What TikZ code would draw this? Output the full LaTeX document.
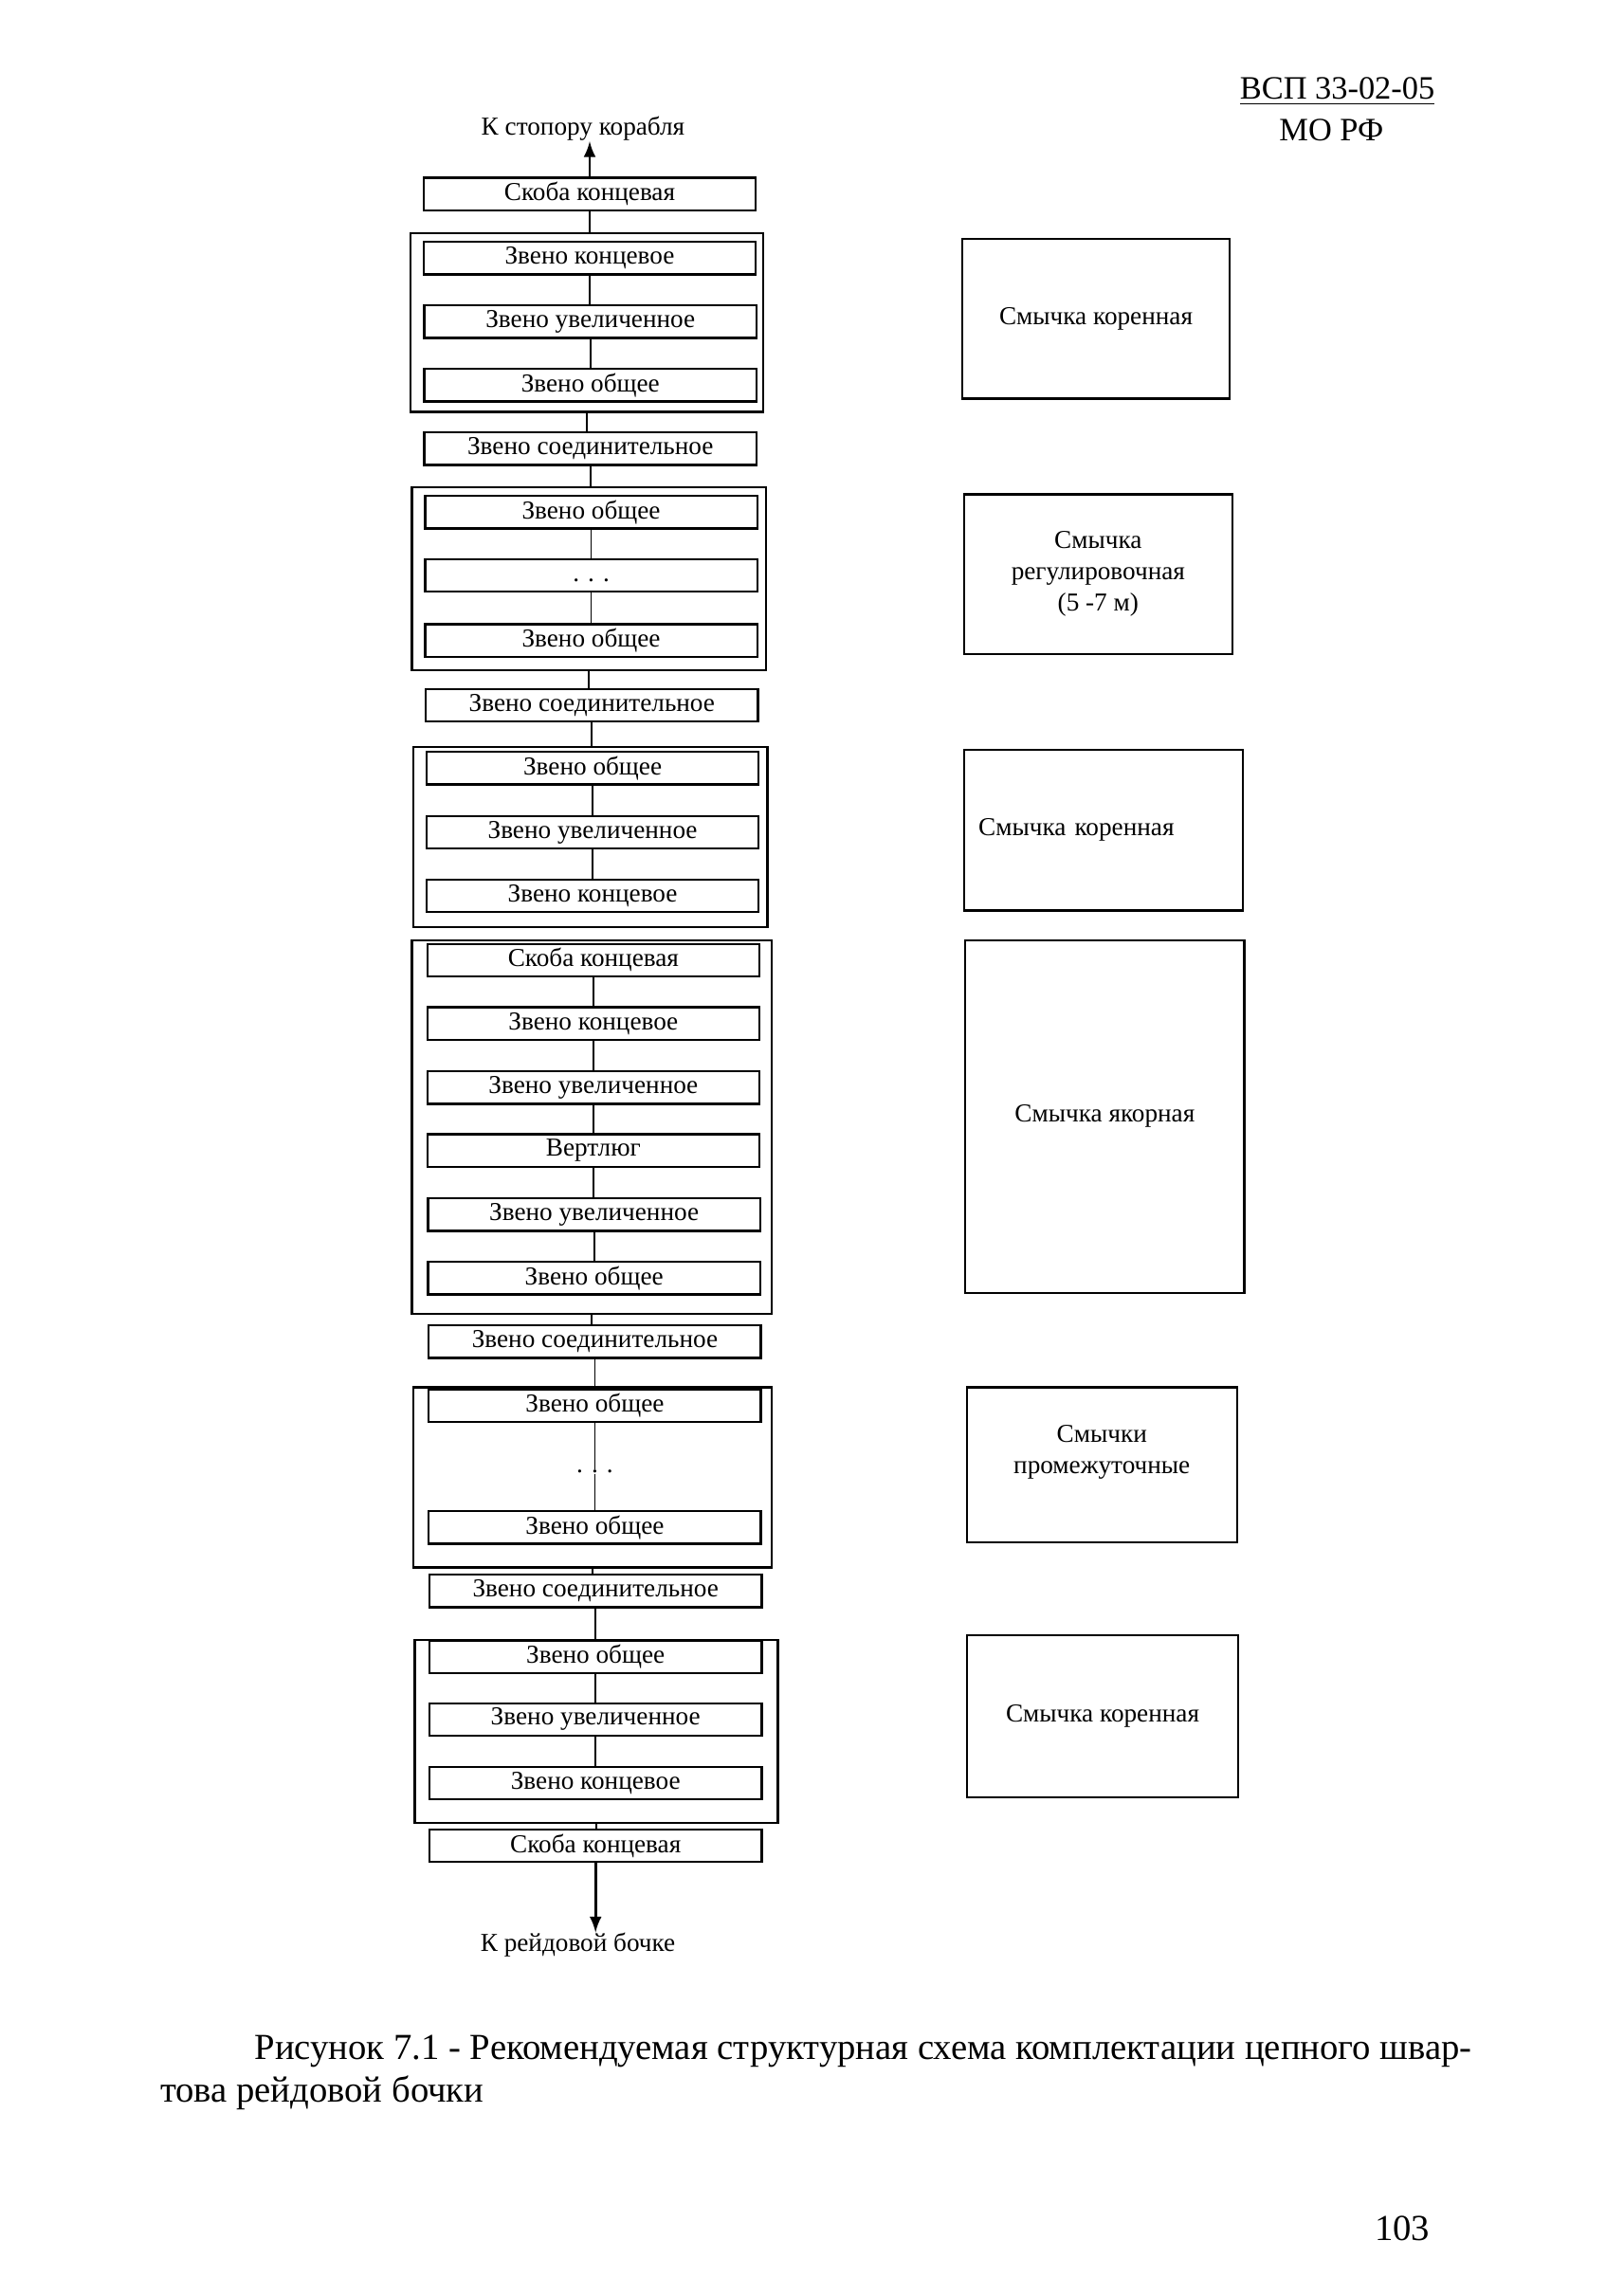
\documentclass[tikz,border=0pt]{standalone}
\usepackage{fontspec}
\setmainfont{Liberation Serif}
\usetikzlibrary{positioning}
\newcommand{\pxu}{0.1909mm}
\newcommand{\boxfont}{\fontsize{9.5}{11.5}\selectfont}
\tikzset{
    zveno/.style={draw,line width=0.8pt,minimum width=225*\pxu,minimum height=22*\pxu,inner sep=0pt,font=\boxfont},
    gruppa/.style={draw,line width=0.8pt,inner sep=0pt},
    smychka/.style={draw,line width=0.8pt,inner sep=0pt,align=center,font=\boxfont},
    podpis/.style={inner sep=0pt,font=\boxfont},
}
\begin{document}
\begin{tikzpicture}[x=\pxu,y=-\pxu,line width=0.6pt]
        \useasboundingbox (0,0) rectangle (1100,1555);
        % header
        \node[inner sep=0pt,font=\fontsize{12}{14}\selectfont] (hdr1) at (906,62) {\underline{ВСП 33-02-05}};
        \node[inner sep=0pt,font=\fontsize{12}{14}\selectfont] (hdr2) at (902,88) {МО РФ};
        \node[podpis] (top) at (395,87) {К стопору корабля};
        % groups
        \node[gruppa,minimum width=239*\pxu,minimum height=121*\pxu] (g1) at (397.5,218.5) {};
        \node[gruppa,minimum width=240*\pxu,minimum height=124*\pxu] (g2) at (399,392) {};
        \node[gruppa,minimum width=240*\pxu,minimum height=122*\pxu] (g3) at (400,567) {};
        \node[gruppa,minimum width=244*\pxu,minimum height=253*\pxu] (g4) at (401,763.5) {};
        \node[gruppa,minimum width=243*\pxu,minimum height=122*\pxu] (g5) at (401.5,1001) {};
        \node[gruppa,minimum width=246*\pxu,minimum height=124*\pxu] (g6) at (404,1173) {};
        % links
        \node[zveno] (s1) at (399.5,131.5) {Скоба концевая};
        \node[zveno] (z11) at (399.5,175) {Звено концевое};
        \node[zveno] (z12) at (400,218) {Звено увеличенное};
        \node[zveno] (z13) at (400,261) {Звено общее};
        \node[zveno] (c1) at (400,304) {Звено соединительное};
        \node[zveno] (z21) at (400.5,347) {Звено общее};
        \node[zveno] (z22) at (400.5,390) {\strut. . .};
        \node[zveno] (z23) at (400.5,434) {Звено общее};
        \node[zveno] (c2) at (401,478) {Звено соединительное};
        \node[zveno] (z31) at (401.5,520.5) {Звено общее};
        \node[zveno] (z32) at (401.5,564) {Звено увеличенное};
        \node[zveno] (z33) at (401.5,607) {Звено концевое};
        \node[zveno] (z41) at (402,650.5) {Скоба концевая};
        \node[zveno] (z42) at (402,693.5) {Звено концевое};
        \node[zveno] (z43) at (402,737) {Звено увеличенное};
        \node[zveno] (z44) at (402,779.5) {Вертлюг};
        \node[zveno] (z45) at (402.5,823) {Звено увеличенное};
        \node[zveno] (z46) at (402.5,866) {Звено общее};
        \node[zveno] (c3) at (403,909) {Звено соединительное};
        \node[zveno] (z51) at (403,952.5) {Звено общее};
        \node[podpis] (dots5) at (403,997) {. . .};
        \node[zveno] (z52) at (403,1035) {Звено общее};
        \node[zveno] (c4) at (403.5,1078) {Звено соединительное};
        \node[zveno] (z61) at (403.5,1122.5) {Звено общее};
        \node[zveno] (z62) at (403.5,1165) {Звено увеличенное};
        \node[zveno] (z63) at (403.5,1208) {Звено концевое};
        \node[zveno] (s2) at (403.5,1250.5) {Скоба концевая};
        \node[podpis] (bot) at (391.5,1318) {К рейдовой бочке};
        % chain
        \foreach \a/\b in {s1/g1,z11/z12,z12/z13,g1/c1,c1/g2,z21/z22,z22/z23,g2/c2,c2/g3,
            z31/z32,z32/z33,z41/z42,z42/z43,z43/z44,z44/z45,z45/z46,g4/c3,c3/g5,
            z51/dots5,dots5/z52,g5/c4,c4/g6,z61/z62,z62/z63,g6/s2}
        {
            \draw (\a.south) -- (\a.south |- \b.north);
        }
        \draw[-latex,line width=1pt] (s1.north) -- (s1.north |- top.south);
        \draw[-latex,line width=1pt] (s2.south) -- (s2.south |- bot.north);
        % shackles
        \node[smychka,minimum width=181*\pxu,minimum height=108*\pxu] (r1) at (742.5,216) {Смычка коренная};
        \node[smychka,minimum width=182*\pxu,minimum height=108*\pxu] (r2) at (744,389) {Смычка\\регулировочная\\(5 -7 м)};
        \node[smychka,minimum width=189*\pxu,minimum height=109*\pxu,text width=169*\pxu,inner xsep=10*\pxu,align=left] (r3) at (747.5,562.5) {Смычка коренная};
        \node[smychka,minimum width=189*\pxu,minimum height=239*\pxu] (r4) at (748.5,756.5) {Смычка якорная};
        \node[smychka,minimum width=183*\pxu,minimum height=105*\pxu] (r5) at (746.5,992.5) {Смычки\\промежуточные\\\mbox{}};
        \node[smychka,minimum width=184*\pxu,minimum height=110*\pxu] (r6) at (747,1163) {Смычка коренная};
        % caption
        \node[inner sep=0pt,anchor=west,font=\fontsize{13.5}{16}\selectfont] (cap1) at (172,1390) {Рисунок 7.1 - Рекомендуемая структурная схема комплектации цепного швар-};
        \node[inner sep=0pt,anchor=west,font=\fontsize{13.5}{16}\selectfont] (cap2) at (108,1418) {това рейдовой бочки};
        \node[inner sep=0pt,font=\fontsize{13.5}{16}\selectfont] (page) at (950,1510) {103};
\end{tikzpicture}
\end{document}
